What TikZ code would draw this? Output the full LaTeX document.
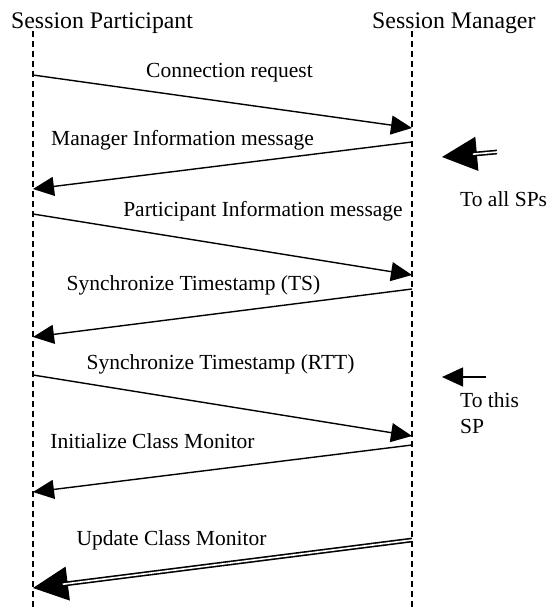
\documentclass[tikz,border=0pt]{standalone}
\usepackage{fontspec}
\setmainfont{Liberation Serif}
\usetikzlibrary{arrows.meta}
\usetikzlibrary{calc}

\begin{document}
\begin{tikzpicture}[x=1pt,y=-1pt,>={Triangle[length=21pt,width=19pt]},
        life/.style={dash pattern=on 6pt off 4pt,line width=1.1pt},
        msg/.style={->,line width=1.4pt},
        dbl/.style={double,double distance=1.6pt,line width=1.6pt},
        bighead/.style={-{Triangle[length=35pt,width=34pt]},line width=1.2pt},
        lbl/.style={font=\fontsize{21.5}{26}\selectfont,inner sep=0pt,anchor=base},
        head/.style={font=\fontsize{23.8}{28}\selectfont,inner sep=0pt,anchor=base west}]

        \useasboundingbox (0,0) rectangle (547,608);

        \node[head] (sp) at (11,28) {Session Participant};
        \node[head] (sm) at (372,28) {Session Manager};

        % lifelines
        \coordinate (sptop) at (33,31);
        \coordinate (spbot) at (33,608);
        \coordinate (smtop) at (412,31);
        \coordinate (smbot) at (412,608);
        \draw[life] (sptop) -- (spbot);
        \draw[life] (smtop) -- (smbot);

        % message ends
        \coordinate (p1) at (33,75);   \coordinate (m1) at (412,128);
        \coordinate (m2) at (412,142); \coordinate (p2) at (33,189);
        \coordinate (p3) at (33,214);  \coordinate (m3) at (412,275);
        \coordinate (m4) at (412,289); \coordinate (p4) at (33,337);
        \coordinate (p5) at (33,375);  \coordinate (m5) at (412,436);
        \coordinate (m6) at (412,445); \coordinate (p6) at (33,492);
        \coordinate (m7) at (412,540); \coordinate (p7) at (33,588);

        \path (p1) edge[msg] (m1)
              (m2) edge[msg] (p2)
              (p3) edge[msg] (m3)
              (m4) edge[msg] (p4)
              (p5) edge[msg] (m5)
              (m6) edge[msg] (p6);
        \draw[bighead] ($(p7)!36pt!(m7)$) -- (p7);
        \draw[dbl] (m7) -- ($(p7)!30pt!(m7)$);

        \node[lbl] (l1) at (229.5,77) {Connection request};
        \node[lbl] (l2) at (182.5,145) {Manager Information message};
        \node[lbl] (l3) at (263,216) {Participant Information message};
        \node[lbl] (l4) at (193.5,290) {Synchronize Timestamp (TS)};
        \node[lbl] (l5) at (220.5,369) {Synchronize Timestamp (RTT)};
        \node[lbl] (l6) at (152.5,448) {Initialize Class Monitor};
        \node[lbl] (l7) at (171.5,545) {Update Class Monitor};

        % legend
        \coordinate (k1) at (442,157); \coordinate (k2) at (497,152);
        \draw[bighead] ($(k1)!37pt!(k2)$) -- (k1);
        \draw[dbl] (k2) -- ($(k1)!31pt!(k2)$);
        \node[lbl,anchor=base west] (allsp) at (460,206) {To all SPs};

        \coordinate (k3) at (442,377); \coordinate (k4) at (486,377);
        \draw[msg] (k4) -- (k3);
        \node[lbl,anchor=base west,align=left] (thissp) at (460,433) {To this\\SP};
\end{tikzpicture}
\end{document}
